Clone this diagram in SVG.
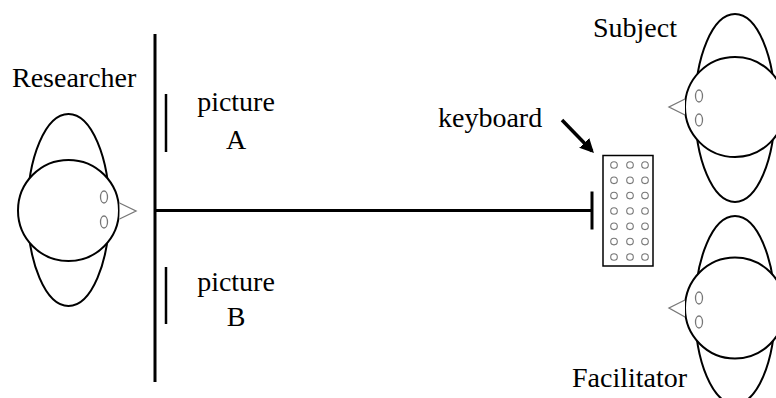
<svg xmlns="http://www.w3.org/2000/svg" width="776" height="398" viewBox="0 0 776 398">
  <style>
    .label { font-family: 'Liberation Serif', 'DejaVu Serif', serif; font-size: 28px; fill: #000; }
    .outline { fill: #fff; stroke: #000; stroke-width: 2; }
    .feature { fill: #fff; stroke: #777; stroke-width: 1.3; }
    .wall { stroke: #000; stroke-width: 3; fill: none; }
    .frame { stroke: #000; stroke-width: 2.5; fill: none; }
    .key { fill: #fff; stroke: #777; stroke-width: 1.1; }
  </style>
  <defs>
    <marker id="arrowhead" viewBox="0 0 10 10" refX="8" refY="5" markerWidth="4" markerHeight="4" orient="auto">
      <path d="M0,0 L10,5 L0,10 z" fill="#000"/>
    </marker>
  </defs>
  <rect width="776" height="398" fill="#fff"/>

  <!-- researcher, seen from above, facing right -->
  <g id="researcher">
    <ellipse class="outline" cx="68.5" cy="210" rx="41" ry="96"/>
    <ellipse class="outline" cx="68.5" cy="210.5" rx="50.5" ry="50.5"/>
    <ellipse class="feature" cx="104" cy="197" rx="3.5" ry="6"/>
    <ellipse class="feature" cx="104" cy="222" rx="3.5" ry="6"/>
    <polyline class="feature" points="119.5,203 136,211 119.5,219"/>
    <text class="label" x="12" y="87" font-family="Liberation Serif">Researcher</text>
  </g>

  <!-- subject, facing left -->
  <g id="subject">
    <ellipse class="outline" cx="735" cy="108" rx="40" ry="94"/>
    <ellipse class="outline" cx="735" cy="107" rx="50" ry="50"/>
    <ellipse class="feature" cx="699" cy="96" rx="3.5" ry="6"/>
    <ellipse class="feature" cx="699" cy="120" rx="3.5" ry="6"/>
    <polyline class="feature" points="685,99 669,107 685,115"/>
    <text class="label" x="593" y="37">Subject</text>
  </g>

  <!-- facilitator, facing left -->
  <g id="facilitator">
    <ellipse class="outline" cx="735" cy="310" rx="40" ry="94"/>
    <ellipse class="outline" cx="735" cy="308" rx="50" ry="50.5"/>
    <ellipse class="feature" cx="699" cy="298" rx="3.5" ry="6"/>
    <ellipse class="feature" cx="699" cy="322" rx="3.5" ry="6"/>
    <polyline class="feature" points="685,300 669,308 685,317"/>
    <text class="label" x="572" y="387">Facilitator</text>
  </g>

  <!-- partition wall -->
  <g id="partition">
    <line class="wall" x1="155" y1="34" x2="155" y2="382"/>
  </g>

  <g id="picture-a">
    <line class="frame" x1="166" y1="94" x2="166" y2="152"/>
    <text class="label" x="236" y="111" text-anchor="middle">picture</text>
    <text class="label" x="236" y="149" text-anchor="middle">A</text>
  </g>

  <g id="picture-b">
    <line class="frame" x1="166" y1="267" x2="166" y2="324"/>
    <text class="label" x="236" y="291" text-anchor="middle">picture</text>
    <text class="label" x="236" y="326" text-anchor="middle">B</text>
  </g>

  <!-- keyboard with 7 x 3 keys -->
  <g id="keyboard">
    <rect x="603" y="155.5" width="50" height="110.5" fill="#fff" stroke="#000" stroke-width="1.5"/>
    <g>
      <circle class="key" cx="614" cy="165" r="3.3"/><circle class="key" cx="630" cy="165" r="3.3"/><circle class="key" cx="645" cy="165" r="3.3"/>
      <circle class="key" cx="614" cy="180.3" r="3.3"/><circle class="key" cx="630" cy="180.3" r="3.3"/><circle class="key" cx="645" cy="180.3" r="3.3"/>
      <circle class="key" cx="614" cy="195.6" r="3.3"/><circle class="key" cx="630" cy="195.6" r="3.3"/><circle class="key" cx="645" cy="195.6" r="3.3"/>
      <circle class="key" cx="614" cy="211" r="3.3"/><circle class="key" cx="630" cy="211" r="3.3"/><circle class="key" cx="645" cy="211" r="3.3"/>
      <circle class="key" cx="614" cy="226.3" r="3.3"/><circle class="key" cx="630" cy="226.3" r="3.3"/><circle class="key" cx="645" cy="226.3" r="3.3"/>
      <circle class="key" cx="614" cy="241.6" r="3.3"/><circle class="key" cx="630" cy="241.6" r="3.3"/><circle class="key" cx="645" cy="241.6" r="3.3"/>
      <circle class="key" cx="614" cy="257" r="3.3"/><circle class="key" cx="630" cy="257" r="3.3"/><circle class="key" cx="645" cy="257" r="3.3"/>
    </g>
    <text class="label" x="438" y="127">keyboard</text>
  </g>

  <g id="connectors">
    <!-- table line ending in a stop bar before the keyboard -->
    <line class="wall" x1="155" y1="210.5" x2="592" y2="210.5"/>
    <line class="wall" x1="592" y1="191.5" x2="592" y2="229.5"/>
    <!-- pointer to the keyboard -->
    <line x1="562" y1="120" x2="592" y2="151" stroke="#000" stroke-width="3.5" marker-end="url(#arrowhead)"/>
  </g>
</svg>
